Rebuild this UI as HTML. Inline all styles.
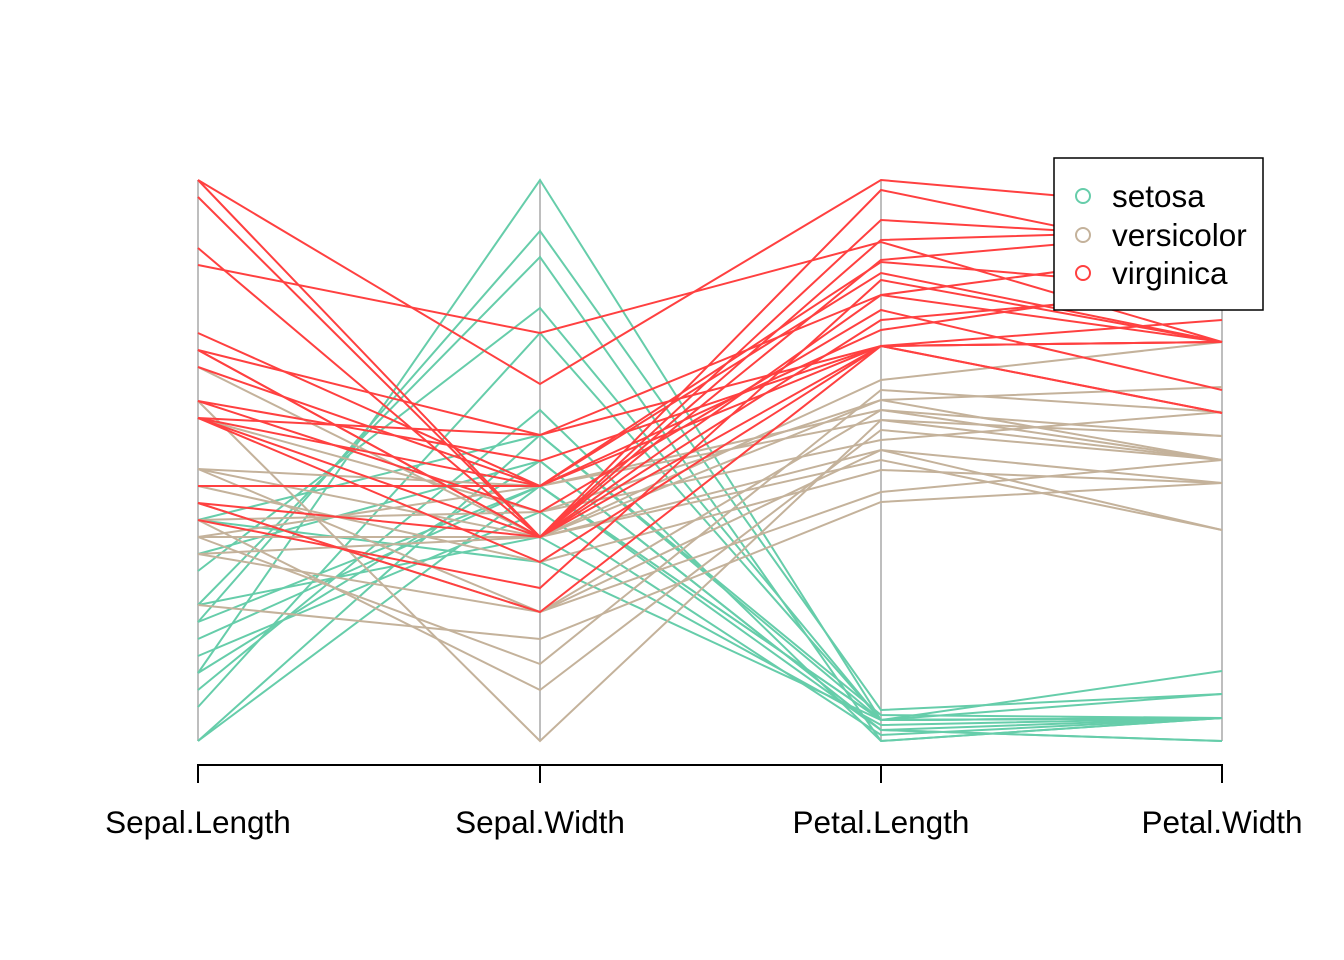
<!DOCTYPE html>
<html><head><meta charset="utf-8"><style>
html,body{margin:0;padding:0;background:#fff;}
svg{display:block;}
text{font-family:"Liberation Sans",Arial,sans-serif;fill:#000;}
</style></head><body>
<svg width="1344" height="960" viewBox="0 0 1344 960" xmlns="http://www.w3.org/2000/svg">
<rect width="1344" height="960" fill="#fff"/>
<g stroke="#BEBEBE" stroke-width="2">
<line x1="198" y1="180" x2="198" y2="741"/><line x1="540" y1="180" x2="540" y2="741"/>
<line x1="881" y1="180" x2="881" y2="741"/><line x1="1222" y1="180" x2="1222" y2="741"/>
</g>
<g fill="none" stroke-width="2">
<g stroke="#66CDAA">
<polyline points="198,741 540,435 881,720 1222,718"/>
<polyline points="198,741 540,486 881,730 1222,741"/>
<polyline points="198,707 540,333 881,720 1222,718"/>
<polyline points="198,690 540,410 881,741 1222,718"/>
<polyline points="198,673 540,180 881,720 1222,671"/>
<polyline points="198,673 540,461 881,730 1222,718"/>
<polyline points="198,622 540,231 881,710 1222,694"/>
<polyline points="198,622 540,486 881,720 1222,718"/>
<polyline points="198,605 540,257 881,741 1222,718"/>
<polyline points="198,605 540,537 881,725 1222,718"/>
<polyline points="198,571 540,308 881,720 1222,718"/>
<polyline points="198,554 540,461 881,730 1222,741"/>
<polyline points="198,520 540,435 881,715 1222,718"/>
<polyline points="198,520 540,562 881,720 1222,718"/>
<polyline points="198,656 540,512 881,735 1222,718"/>
<polyline points="198,639 540,486 881,720 1222,694"/>
</g>
<g stroke="#C4B29B">
<polyline points="198,367 540,537 881,400 1222,460"/>
<polyline points="198,401 540,741 881,420 1222,460"/>
<polyline points="198,469 540,612 881,450 1222,483"/>
<polyline points="198,469 540,486 881,410 1222,436"/>
<polyline points="198,520 540,690 881,430 1222,460"/>
<polyline points="198,537 540,664 881,390 1222,412"/>
<polyline points="198,537 540,537 881,450 1222,530"/>
<polyline points="198,554 540,612 881,492 1222,460"/>
<polyline points="198,605 540,639 881,502 1222,483"/>
<polyline points="198,486 540,562 881,470 1222,483"/>
<polyline points="198,520 540,512 881,440 1222,412"/>
<polyline points="198,537 540,486 881,420 1222,436"/>
<polyline points="198,554 540,537 881,380 1222,342"/>
<polyline points="198,469 540,537 881,460 1222,530"/>
<polyline points="198,503 540,612 881,410 1222,460"/>
<polyline points="198,418 540,512 881,400 1222,387"/>
</g>
<g stroke="#FF4040">
<polyline points="198,180 540,384 881,180 1222,210"/>
<polyline points="198,180 540,537 881,220 1222,240"/>
<polyline points="198,197 540,537 881,190 1222,260"/>
<polyline points="198,248 540,537 881,240 1222,230"/>
<polyline points="198,265 540,333 881,242 1222,342"/>
<polyline points="198,333 540,486 881,262 1222,290"/>
<polyline points="198,350 540,435 881,295 1222,342"/>
<polyline points="198,350 540,537 881,346 1222,320"/>
<polyline points="198,367 540,486 881,273 1222,342"/>
<polyline points="198,401 540,512 881,310 1222,390"/>
<polyline points="198,401 540,461 881,346 1222,342"/>
<polyline points="198,418 540,435 881,346 1222,413"/>
<polyline points="198,418 540,537 881,320 1222,290"/>
<polyline points="198,418 540,562 881,346 1222,342"/>
<polyline points="198,486 540,486 881,346 1222,342"/>
<polyline points="198,503 540,612 881,346 1222,413"/>
<polyline points="198,520 540,588 881,280 1222,342"/>
<polyline points="198,503 540,537 881,260 1222,230"/>
<polyline points="198,418 540,486 881,330 1222,280"/>
<polyline points="198,350 540,537 881,295 1222,250"/>
</g>
</g>
<g stroke="#000" stroke-width="2" fill="none">
<polyline points="198,783 198,765 1222,765 1222,783"/>
<line x1="540" y1="765" x2="540" y2="783"/><line x1="881" y1="765" x2="881" y2="783"/>
</g>
<g font-size="31.5" text-anchor="middle">
<text x="198" y="833">Sepal.Length</text><text x="540" y="833">Sepal.Width</text>
<text x="881" y="833">Petal.Length</text><text x="1222" y="833">Petal.Width</text>
</g>
<rect x="1054" y="158" width="209" height="152" fill="#fff" stroke="#000" stroke-width="1.5"/>
<g fill="none" stroke-width="2">
<circle cx="1083" cy="196" r="7" stroke="#66CDAA"/>
<circle cx="1083" cy="235" r="7" stroke="#C4B29B"/>
<circle cx="1083" cy="273" r="7" stroke="#FF4040"/>
</g>
<g font-size="31.5">
<text x="1112" y="207">setosa</text><text x="1112" y="246">versicolor</text><text x="1112" y="284">virginica</text>
</g>
</svg>
</body></html>
